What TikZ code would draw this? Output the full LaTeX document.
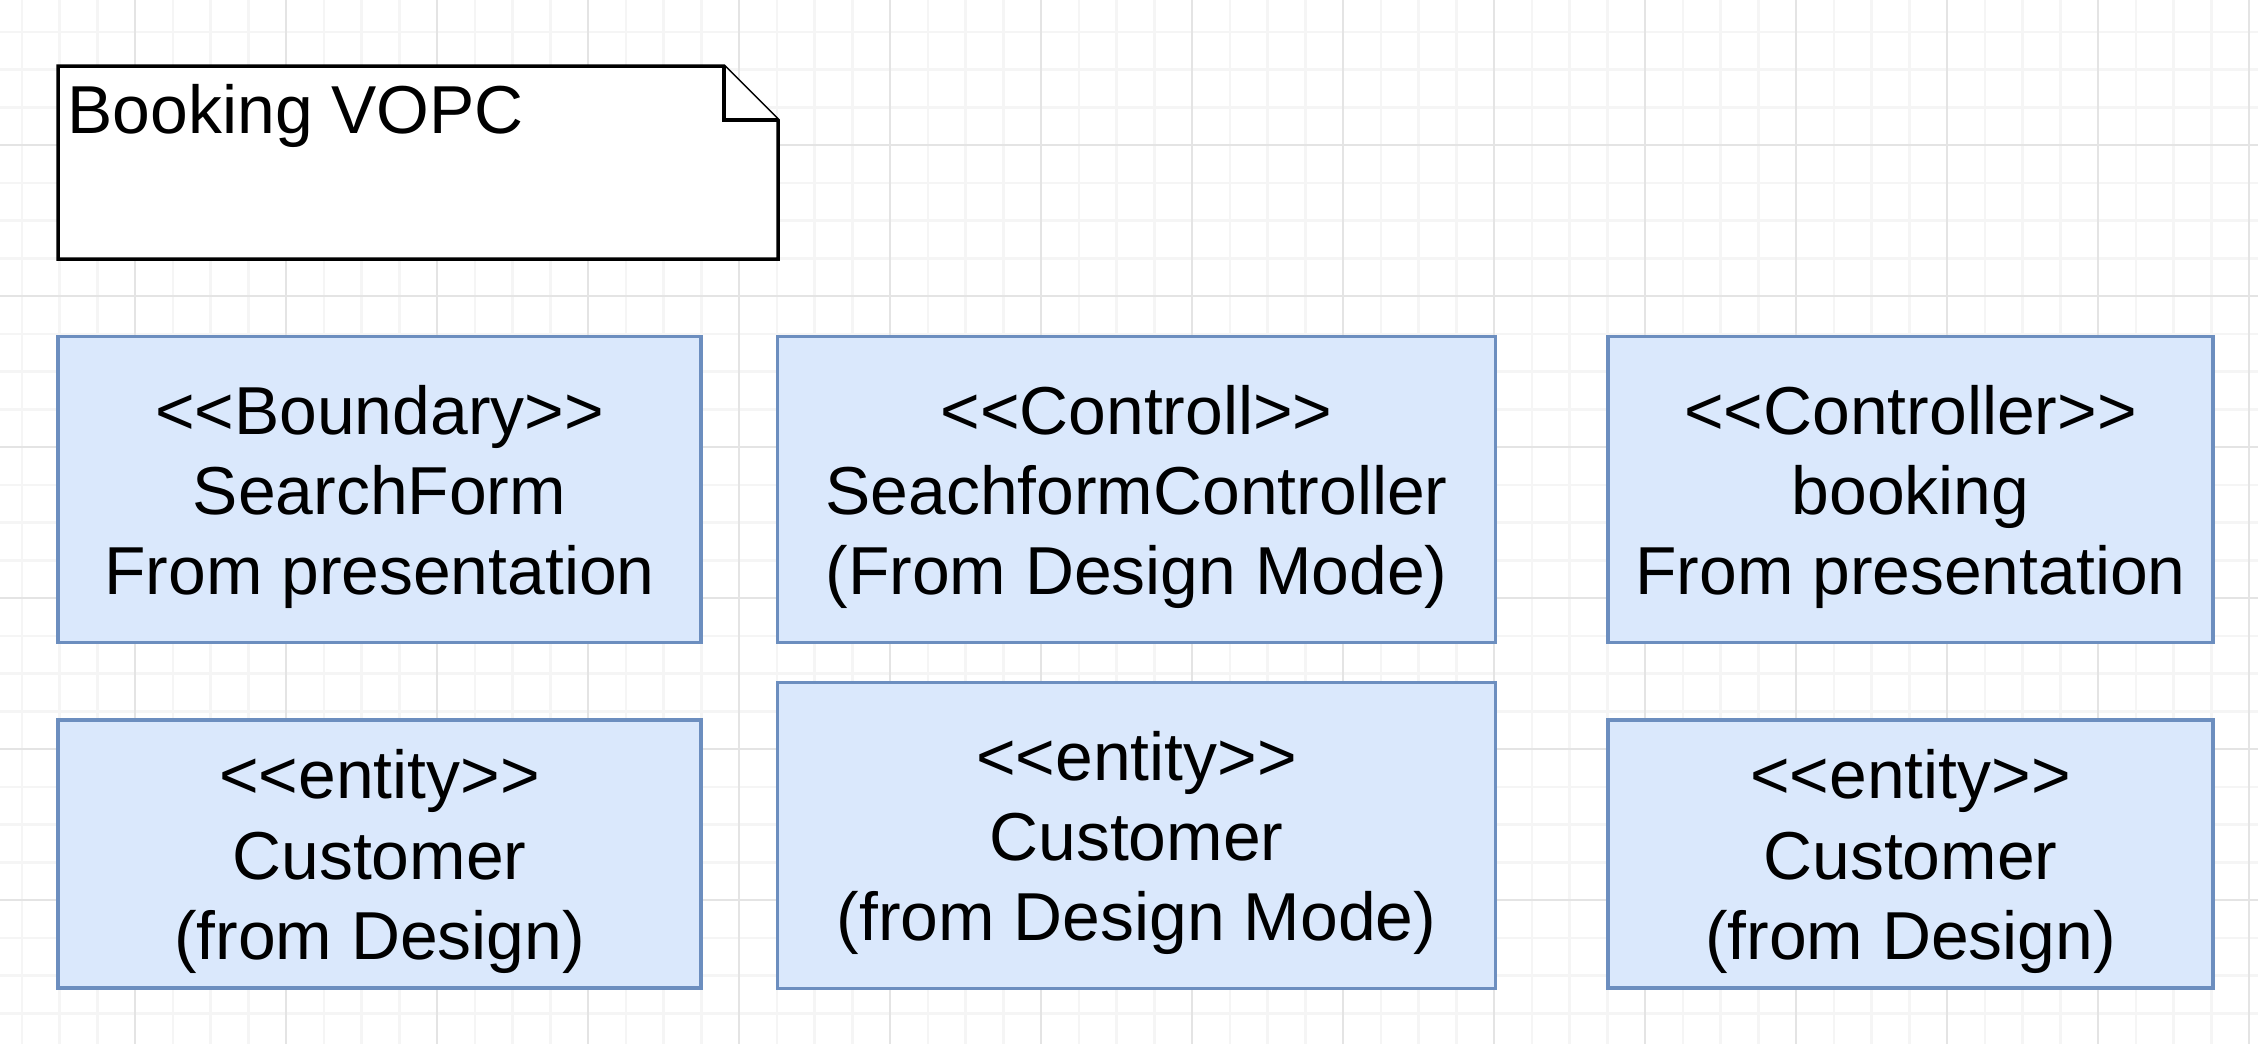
\documentclass[tikz,border=0pt]{standalone}
\usepackage{fontspec}
\setmainfont{Liberation Sans}
\definecolor{boxfill}{HTML}{DAE8FC}
\definecolor{boxline}{HTML}{6C8EBF}
\definecolor{gridminor}{HTML}{F5F5F5}
\definecolor{gridmajor}{HTML}{E4E4E4}
\newcommand{\vopcfont}{\fontsize{19.3}{22.8}\selectfont}
\tikzset{
    classbox/.style={draw=boxline, fill=boxfill, line width=0.35mm, inner sep=0pt},
    classtext/.style={align=center, font=\vopcfont, inner sep=0pt, yshift=-0.75mm},
    notebox/.style={draw=black, fill=white, line width=0.35mm, line join=miter}
}

\begin{document}
\begin{tikzpicture}[x=0.1mm,y=-0.1mm]
    \useasboundingbox(0,0)rectangle(2258,1044);
    \fill[white](0,0)rectangle(2258,1044);

    % grid
    \foreach \i in {0,...,59}
        \draw[gridminor,line width=0.25mm](21.75+37.75*\i,0)--(21.75+37.75*\i,1044);
    \foreach \j in {0,...,27}
        \draw[gridminor,line width=0.25mm](0,31.75+37.75*\j)--(2258,31.75+37.75*\j);
    \foreach \i in {0,...,15}
        \draw[gridmajor,line width=0.25mm](-16+151*\i,0)--(-16+151*\i,1044);
    \foreach \j in {0,...,7}
        \draw[gridmajor,line width=0.25mm](0,-6+151*\j)--(2258,-6+151*\j);

    % note
    \draw[notebox](58,66)--(724,66)--(778,120)--(778,259)--(58,259)--cycle;
    \draw[notebox](724,66)--(724,120)--(778,120);
    \node[anchor=base west,inner sep=0pt,font=\vopcfont](title)at(67,133){Booking VOPC};

    % classes
    \node[classbox,minimum width=64.3mm,minimum height=30.6mm](searchform)at(379.5,489.5){};
    \node[classtext](searchformtxt)at(searchform){<{}<Boundary>{}>\\SearchForm\\From presentation};
    \node[classbox,minimum width=71.8mm,minimum height=30.6mm](searchctrl)at(1136.5,489.5){};
    \node[classtext](searchctrltxt)at(searchctrl){<{}<Controll>{}>\\SeachformController\\(From Design Mode)};
    \node[classbox,minimum width=60.5mm,minimum height=30.6mm](booking)at(1910.5,489.5){};
    \node[classtext](bookingtxt)at(booking){<{}<Controller>{}>\\booking\\From presentation};

    \node[classbox,minimum width=64.3mm,minimum height=26.8mm](customerA)at(379.5,854){};
    \node[classtext](customerAtxt)at(customerA){<{}<entity>{}>\\Customer\\(from Design)};
    \node[classbox,minimum width=71.8mm,minimum height=30.6mm](customerB)at(1136.5,835.5){};
    \node[classtext](customerBtxt)at(customerB){<{}<entity>{}>\\Customer\\(from Design Mode)};
    \node[classbox,minimum width=60.5mm,minimum height=26.8mm](customerC)at(1910.5,854){};
    \node[classtext](customerCtxt)at(customerC){<{}<entity>{}>\\Customer\\(from Design)};
\end{tikzpicture}
\end{document}
